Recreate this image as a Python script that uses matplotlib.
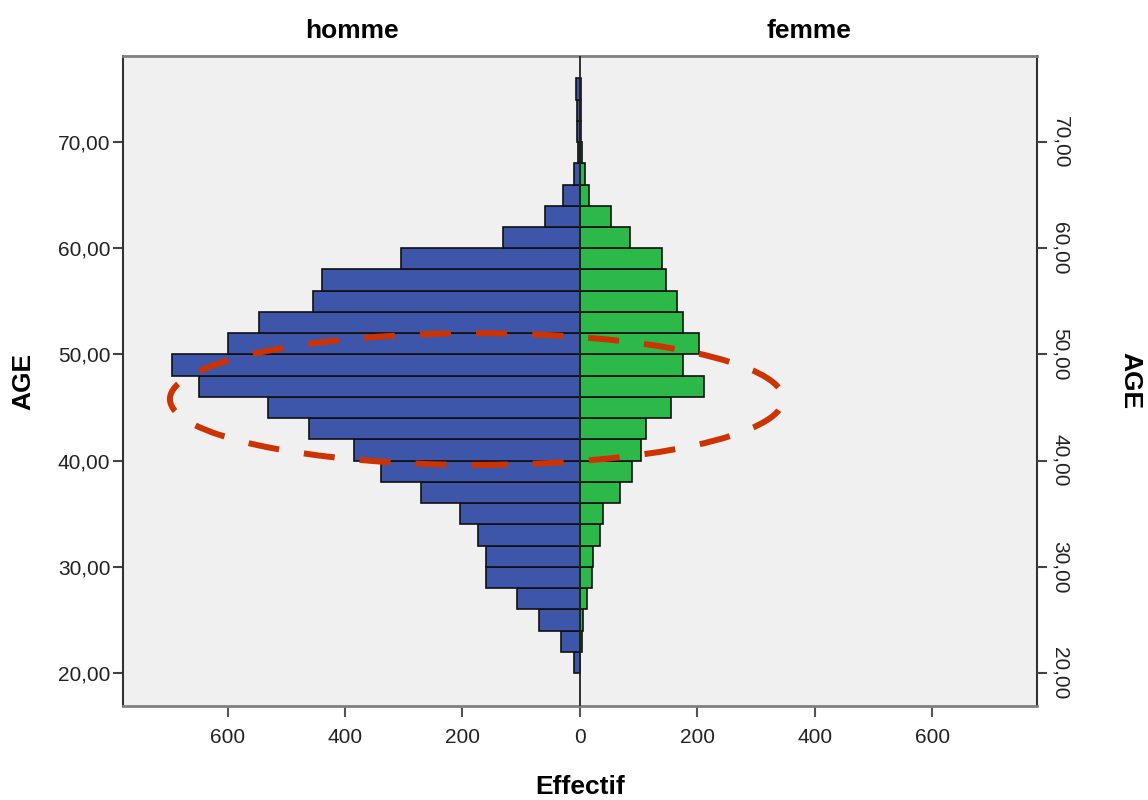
import matplotlib
matplotlib.use("Agg")
import matplotlib.pyplot as plt
from matplotlib import font_manager
from matplotlib.patches import Ellipse

# tranches d'age (borne basse, largeur 2 ans)
age_lo = [20, 22, 24, 26, 28, 30, 32, 34, 36, 38, 40, 42, 44, 46,
          48, 50, 52, 54, 56, 58, 60, 62, 64, 66, 68, 70, 72, 74]
homme = [10, 33, 70, 108, 160, 160, 173, 204, 271, 338, 384, 462, 531, 649,
         694, 599, 546, 455, 440, 305, 131, 60, 29, 10, 4, 5, 5, 6]
femme = [0, 3, 6, 12, 20, 23, 34, 39, 68, 88, 104, 112, 155, 211,
         176, 202, 176, 166, 147, 140, 85, 52, 16, 8, 3, 2, 1, 1]
age_ticks = [20, 30, 40, 50, 60, 70]
age_labels = ["20,00", "30,00", "40,00", "50,00", "60,00", "70,00"]
eff_ticks = [-600, -400, -200, 0, 200, 400, 600]
eff_labels = ["600", "400", "200", "0", "200", "400", "600"]

names = {f.name for f in font_manager.fontManager.ttflist}
fam = "Liberation Sans Narrow" if "Liberation Sans Narrow" in names else "Liberation Sans"
plt.rcParams["font.family"] = [fam, "DejaVu Sans"]

fig = plt.figure(figsize=(11.48, 8), dpi=100)
ax = fig.add_axes([0.1071, 0.1175, 0.7962, 0.8125])
ax.set_facecolor("#f0f0f0")

ax.barh(age_lo, [-v for v in homme], height=2, align="edge",
        color="#3d56aa", edgecolor="#111111", linewidth=1.2)
ax.barh(age_lo, femme, height=2, align="edge",
        color="#2db84a", edgecolor="#111111", linewidth=1.2)
ax.axvline(0, color="#222222", lw=1.3, zorder=3)

ax.set_xlim(-778, 778)
ax.set_ylim(16.9, 78.1)

ax.set_yticks(age_ticks)
ax.set_yticklabels(age_labels, fontsize=15, color="#222222")
ax.set_xticks(eff_ticks)
ax.set_xticklabels(eff_labels, fontsize=15, color="#222222")
ax.tick_params(axis="y", length=7, width=1.5, color="#444444", pad=2)
ax.tick_params(axis="x", length=8, width=1.5, color="#555555", pad=8)

for s in ["top", "bottom"]:
    ax.spines[s].set_color("#808080")
    ax.spines[s].set_linewidth(2)
for s in ["left", "right"]:
    ax.spines[s].set_color("#333333")
    ax.spines[s].set_linewidth(1.5)

ax2 = ax.twinx()
ax2.set_ylim(ax.get_ylim())
ax2.set_yticks(age_ticks)
ax2.set_yticklabels(age_labels, fontsize=15, color="#222222", rotation=-90,
                    va="center")
ax2.tick_params(axis="y", length=7, width=1.5, color="#444444", pad=3)
for s in ax2.spines.values():
    s.set_visible(False)

ax.set_xlabel("Effectif", fontsize=19, fontweight="bold", labelpad=20)
ax.set_ylabel("AGE", fontsize=19, fontweight="bold", labelpad=16)
ax2.set_ylabel("AGE", fontsize=19, fontweight="bold", rotation=-90,
               labelpad=52)

ax.text(-389, 1.02, "homme", transform=ax.get_xaxis_transform(),
        ha="center", va="bottom", fontsize=19, fontweight="bold")
ax.text(389, 1.02, "femme", transform=ax.get_xaxis_transform(),
        ha="center", va="bottom", fontsize=19, fontweight="bold")

ell = Ellipse((-176, 45.8), 1044, 12.4, fill=False, edgecolor="#cc3300",
              linewidth=4.3, linestyle=(0, (5.2, 4.2)), zorder=5, clip_on=False)
ax.add_patch(ell)

fig.savefig("out.png", dpi=100, facecolor="white")
